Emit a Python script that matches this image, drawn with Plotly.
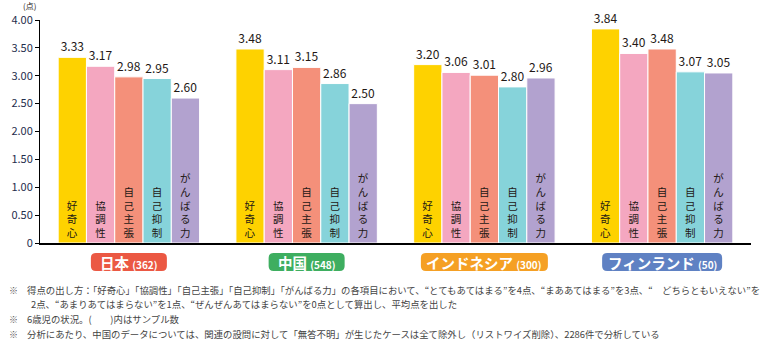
import plotly.graph_objects as go

countries = ["日本", "中国", "インドネシア", "フィンランド"]
samples = ["(362)", "(548)", "(300)", "(50)"]
items = ["好奇心", "協調性", "自己主張", "自己抑制", "がんばる力"]
values = {
    "好奇心":   [3.33, 3.48, 3.20, 3.84],
    "協調性":   [3.17, 3.11, 3.06, 3.40],
    "自己主張": [2.98, 3.15, 3.01, 3.48],
    "自己抑制": [2.95, 2.86, 2.80, 3.07],
    "がんばる力": [2.60, 2.50, 2.96, 3.05],
}
y_tickvals = [0, 0.5, 1.0, 1.5, 2.0, 2.5, 3.0, 3.5, 4.0]
y_ticktext = ["0", "0.50", "1.00", "1.50", "2.00", "2.50", "3.00", "3.50", "4.00"]
notes = [
    "得点の出し方：「好奇心」「協調性」「自己主張」「自己抑制」「がんばる力」の各項目において、“とてもあてはまる”を4点、“まああてはまる”を3点、“　どちらともいえない”を",
    "2点、“あまりあてはまらない”を1点、“ぜんぜんあてはまらない”を0点として算出し、平均点を出した",
    "6歳児の状況。(　　)内はサンプル数",
    "分析にあたり、中国のデータについては、関連の設問に対して「無答不明」が生じたケースは全て除外し（リストワイズ削除）、2286件で分析している",
]

item_colors = ["#FED200", "#F4A7C0", "#F4907A", "#86D3DA", "#B2A2CF"]
badge_colors = ["#EB5843", "#3EAE60", "#F5A024", "#5F81C3"]
badge_widths = [76, 76, 127, 120]

FONT = "Noto Sans CJK JP"
TXT = "#231815"

fig = go.Figure()
for i, item in enumerate(items):
    fig.add_trace(go.Bar(
        x=countries, y=values[item], name=item, offsetgroup=str(i),
        marker=dict(color=item_colors[i], line=dict(color="white", width=1)),
        text=["<br>".join(list(item))] * len(countries),
        textposition="inside", insidetextanchor="start", textangle=0,
        constraintext="none",
        textfont=dict(family=FONT, size=10.5, color=TXT),
        hoverinfo="skip",
    ))
    fig.add_trace(go.Bar(
        x=countries, y=values[item], name=item + "値", offsetgroup=str(i),
        marker=dict(color="rgba(0,0,0,0)", line=dict(width=0)),
        text=[f"{v:.2f}" for v in values[item]],
        textposition="outside", textangle=0, cliponaxis=False,
        textfont=dict(family=FONT, size=12, color=TXT),
        hoverinfo="skip",
    ))

def rounded(w, y0, y1, r):
    a, b = -w / 2, w / 2
    return (f"M {a+r},{y1} L {b-r},{y1} Q {b},{y1} {b},{y1-r} "
            f"L {b},{y0+r} Q {b},{y0} {b-r},{y0} L {a+r},{y0} "
            f"Q {a},{y0} {a},{y0+r} L {a},{y1-r} Q {a},{y1} {a+r},{y1} Z")

shapes = []
annotations = []
for i, c in enumerate(countries):
    shapes.append(dict(
        type="path", xref="x", yref="paper", xsizemode="pixel", ysizemode="pixel",
        xanchor=i, yanchor=0, path=rounded(badge_widths[i], -28, -10, 5),
        fillcolor=badge_colors[i], line=dict(width=0), layer="above",
    ))
    annotations.append(dict(
        x=i, y=0, xref="x", yref="paper", yshift=-19, showarrow=False,
        xanchor="center", yanchor="middle",
        text=f"<b>{c}</b> <span style='font-size:10px'><b>{samples[i]}</b></span>",
        font=dict(family=FONT, size=14.5, color="white"),
    ))

annotations.append(dict(
    x=0, y=1, xref="paper", yref="paper", xanchor="right", yanchor="middle",
    xshift=-2, yshift=15, showarrow=False, text="(点)",
    font=dict(family=FONT, size=8, color=TXT),
))

note_y = [-47, -61, -76, -91]
for k, t in enumerate(notes):
    if k != 1:
        annotations.append(dict(
            x=0, y=0, xref="paper", yref="paper", xanchor="left", yanchor="middle",
            xshift=-33, yshift=note_y[k], showarrow=False, text="※",
            font=dict(family=FONT, size=9, color="#555555"),
        ))
    annotations.append(dict(
        x=0, y=0, xref="paper", yref="paper", xanchor="left", yanchor="middle",
        xshift=(-15 if k != 1 else -11), yshift=note_y[k], showarrow=False, text=t,
        font=dict(family=FONT, size=9.4, color="#444444"),
    ))

fig.update_layout(
    width=762, height=347, margin=dict(l=37, r=11, t=20, b=104),
    paper_bgcolor="white", plot_bgcolor="white",
    barmode="group", bargap=0.2045, bargroupgap=0,
    showlegend=False,
    shapes=shapes, annotations=annotations,
    font=dict(family=FONT, color=TXT),
)
fig.update_xaxes(
    type="category", range=[-0.5, 3.5], showline=True, linecolor="black", linewidth=1.5,
    showticklabels=False, ticks="", showgrid=False, zeroline=False,
)
fig.update_yaxes(
    range=[0, 4], tickvals=y_tickvals, ticktext=y_ticktext,
    showline=True, linecolor="black", linewidth=1, ticks="outside", ticklen=4,
    tickcolor="black", showgrid=False, zeroline=False,
    tickfont=dict(family=FONT, size=11, color="#1F2D4D"),
)

fig.write_html("out.html")
